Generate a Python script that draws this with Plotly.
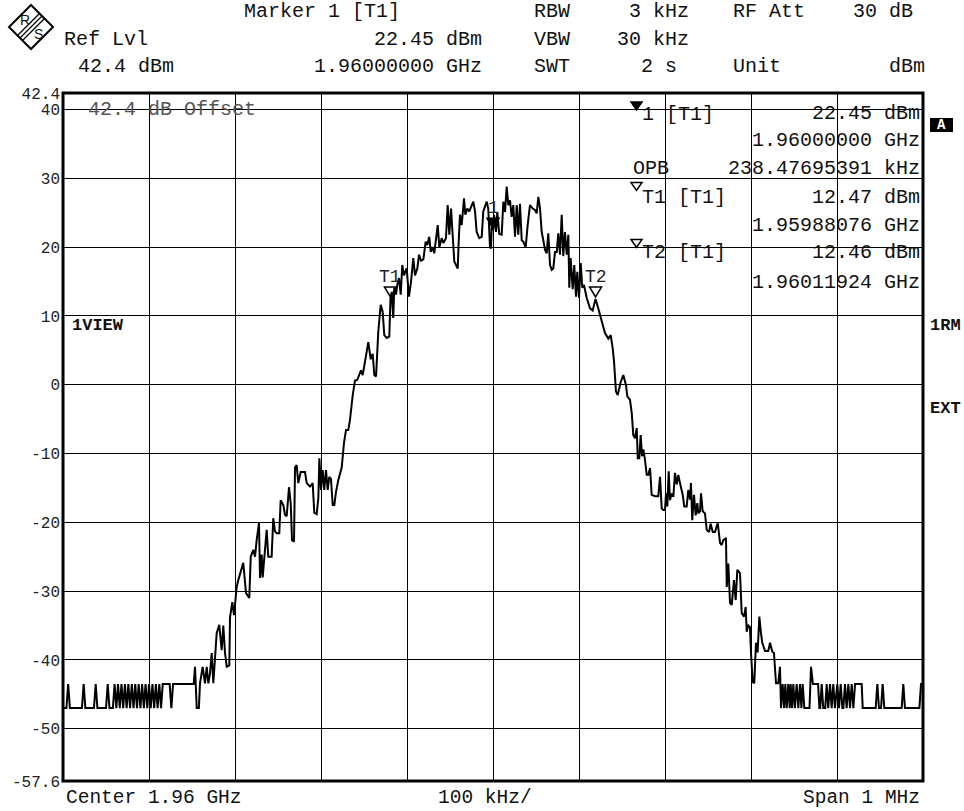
import plotly.graph_objects as go

MONO = "Liberation Mono, Courier New, monospace"
SANS = "Liberation Sans, Arial, sans-serif"

# ---- instrument settings -------------------------------------------------
CENTER_GHZ = 1.96
SPAN_MHZ = 1
DIV_KHZ = 100
REF_LEVEL_DBM = 42.4
REF_OFFSET_DB = 42.4
BOTTOM_DBM = -57.6
RBW_KHZ = 3
VBW_KHZ = 30
SWT_S = 2
RF_ATT_DB = 30
OPB_KHZ = 238.47695391

# ---- markers ---------------------------------------------------------------
MARKER_NAMES = ["1", "T1", "T2"]
MARKER_FREQ_GHZ = [1.96000000, 1.95988076, 1.96011924]
MARKER_LEVEL_DBM = [22.45, 12.47, 12.46]

# ---- y axis labels -----------------------------------------------------------
Y_TICKS = [42.4, 40, 30, 20, 10, 0, -10, -20, -30, -40, -50, -57.6]
Y_TICK_TEXT = ["42.4", "40", "30", "20", "10", "0", "-10", "-20", "-30", "-40", "-50", "-57.6"]

# ---- trace (frequency offset from centre in kHz, level in dBm) ---------------
floor_left_khz = [
    -500, -496, -494, -492, -478, -476, -474, -464, -462, -460,
    -450, -448, -446, -442, -440, -438, -436, -434, -432, -430,
    -428, -426, -424, -422, -420, -418, -416, -414, -412, -410,
    -408, -406, -404, -402, -400, -398, -396, -394, -392, -390,
    -388, -386, -384, -376, -374, -372, -348,
]
floor_left_dbm = [
    -47, -47, -43.5, -47, -47, -43.5, -47, -47, -43.5, -47,
    -47, -43.5, -47, -47, -43.5, -47, -43.5, -47, -43.5, -47,
    -43.5, -47, -43.5, -47, -43.5, -47, -43.5, -47, -43.5, -47,
    -43.5, -47, -43.5, -47, -43.5, -47, -43.5, -47, -43.5, -47,
    -43.5, -47, -43.5, -43.5, -47, -43.5, -43.5,
]

skirt_left_khz = [
    -346.5, -344.5, -342, -340.7, -337.6, -334.9, -332.9, -331, -329.1, -327.1,
    -325.2, -321.3, -318.3, -315.5, -313.6, -311.6, -309.6, -306.6, -305.8, -303.1,
    -301.2, -298, -296.2, -290.4, -287.2, -283.4, -281.7, -278.7, -276.7, -274.8,
    -272.1, -270.9, -269, -267.8, -266.3, -263.2, -261.3, -257.4, -255.5, -253.5,
    -251.5, -248.5, -246.9, -243.8, -241.9, -239.9, -237.2, -235.2, -233.7, -231.4,
    -230.2, -228.3, -226.4, -223.6, -218.6, -216.6, -212.8, -209.7, -207.8, -205,
    -203.1, -201.9, -200, -198, -196.2, -194.2, -192.2, -190.4, -188.4, -186.4,
    -184.5, -182.6, -179.9, -175.9, -173.3, -170.9, -168.3, -166.3,
]
skirt_left_dbm = [
    -41, -47, -47, -43.4, -41, -43.4, -41, -43.4, -42, -39,
    -43.4, -36.1, -34.9, -38.6, -35, -39, -41, -40.8, -33.8, -31.6,
    -33.5, -29.4, -28.4, -25.9, -30.3, -31, -25, -24, -25, -22.6,
    -20.1, -28.1, -24.7, -28, -25.5, -21.1, -25, -25, -19.4, -21.3,
    -21.6, -21.6, -16.8, -17.5, -18.9, -19.1, -14.9, -17.3, -22.6, -22.8,
    -12, -11.7, -14.3, -12.7, -12.7, -14.3, -14.8, -14.3, -18.6, -18.8,
    -16.5, -10.7, -15.3, -12.4, -15.3, -12.4, -15.3, -13.4, -13.7, -17.5,
    -17.5, -15.6, -13.9, -12, -8.5, -6.6, -6.6, -5.1,
]

lobe_khz = [
    -163.1, -160.5, -157.8, -155.5, -153.5, -151.5, -148.8, -145, -142.2, -139.9,
    -138, -136, -133.4, -130.6, -128.3, -126.4, -123.6, -120.6, -119.24, -117.8,
    -116, -114.8, -112.8, -111.3, -109.3, -107.3, -105.5, -103.5, -100.4, -97.7,
    -95.3, -92.7, -90.7, -88, -86, -83.7, -81, -78.3, -76.4, -74.1,
    -72.4, -70.1, -68.3, -65.5, -64.3, -62.4, -59.7, -57.8, -54.7, -52.7,
    -50.8, -48.8, -46.2, -45, -43, -41, -39.9, -38.4, -36.4, -33.7,
    -32.2, -29.9, -27.6, -24.8, -22.9, -20.9, -19, -15.9, -13.1, -11.3,
    -7.3, -5.5, -3.5, -2.3, -1.2, 0, 1.2, 3.5, 5, 7.3,
    10.1, 12, 14, 15.9, 17.8, 19.8, 21.7, 23.6, 25.6, 27.6,
    29.4, 31.4, 33.4, 35.2, 38, 40.3, 43, 46.2, 48.8, 50.8,
    52.7, 54.7, 56.6, 58.5, 60.5, 62.4, 64.3, 66.3, 68.3, 70.1,
    72.1, 74.1, 75.9, 77.9, 79.9, 81.7, 83.7, 85.7, 87.6, 88.7,
    90.3, 92.7, 94.5, 96.5, 98, 100, 102, 103.8, 105.8, 109,
    112.8, 115.9, 117.8, 119.24, 122.4, 126.4, 130.2, 134.1, 136.9, 139.2,
    140.7, 143, 145, 148.5, 151.5, 154.7,
]
lobe_dbm = [
    -1.5, 0.6, 0.7, 1.4, 2.1, 1.4, 3.7, 6.2, 3.7, 4.5,
    1.4, 1.2, 7.7, 11.6, 10.6, 7.2, 6.8, 7.0, 12.47, 13.5,
    9.7, 14.1, 13.1, 14.5, 15.5, 13.1, 17.4, 15.9, 16.9, 12.8,
    15.0, 18.4, 15.9, 16.9, 18.9, 18.0, 18.2, 20.8, 20.3, 21.5,
    19.3, 20.0, 19.1, 21.8, 23.2, 20.0, 21.3, 20.6, 21.3, 26.1,
    21.8, 25.6, 20.0, 17.9, 17.4, 16.9, 20.8, 24.7, 23.2, 27.1,
    24.7, 25.6, 25.2, 25.9, 26.6, 25.2, 22.2, 21.3, 21.5, 25.2,
    26.6, 25.6, 20.0, 19.8, 24.2, 22.45, 24.7, 22.2, 25.1, 21.9,
    21.8, 26.6, 25.1, 28.8, 26.1, 26.8, 24.4, 26.1, 21.5, 26.1,
    21.8, 26.3, 21.0, 20.8, 20.0, 23.2, 26.1, 25.6, 25.4, 24.9,
    27.3, 25.6, 22.2, 21.0, 19.6, 19.1, 22.0, 17.4, 16.7, 16.9,
    19.3, 19.3, 22.0, 18.9, 24.7, 18.7, 22.2, 18.9, 21.8, 14.1,
    18.4, 13.9, 17.4, 12.8, 16.4, 12.6, 17.7, 14.1, 14.5, 12.6,
    11.1, 10.8, 11.8, 12.46, 11.1, 9.2, 7.5, 6.7, 7.2, 5.3,
    3.4, -1.0, -1.5, 0.4, 1.4, -0.1,
]

skirt_right_khz = [
    156.2, 159.3, 161.3, 163.1, 165.1, 167.1, 168.3, 170.1, 171.7, 173.3,
    174.8, 176.7, 178.7, 180.6, 182.6, 184.5, 188.4, 192.2, 194.2, 196.2,
    198, 200, 201.2, 202.7, 204.3, 205.8, 207.8, 209.7, 211.6, 213.6,
    215.5, 217.4, 220.6, 222.4, 225.2, 227.1, 229.1, 230.2, 231.7, 233.7,
    235.7, 237.6, 238.7, 240.7, 241.9, 243.8, 246.5, 248.5, 251.2, 253.1,
    255.5, 258.1, 261.3, 264, 265.9, 267.8, 270.9, 271.8, 273.6, 275.6,
    277.6, 280.2, 282.2, 284.1, 287.2, 289.2, 291.9, 293.8, 295, 296.9,
    298.8, 300, 302, 303.8, 305.8, 307.7, 309.7, 311.6, 313.1, 316.3,
    320.1, 322.1, 324.8, 326.7, 329.1, 331.7, 333.7,
]
skirt_right_dbm = [
    -1.7, -2.2, -4.1, -7.3, -7.8, -6.3, -10.7, -10.7, -7.3, -10.4,
    -9.4, -10.9, -13.1, -13.1, -12.1, -16.0, -16.2, -16.2, -13.4, -18.0,
    -18.2, -18.2, -15.8, -17.7, -12.6, -16.8, -15.8, -16.3, -12.8, -14.5,
    -13.1, -14.3, -16.0, -17.7, -17.7, -15.3, -16.7, -14.3, -19.7, -16.0,
    -19.0, -17.2, -18.7, -18.4, -15.8, -18.4, -18.7, -21.1, -21.4, -20.2,
    -21.4, -21.4, -20.1, -23.0, -23.3, -22.6, -22.3, -29.4, -26.0, -31.7,
    -32.0, -28.4, -31.3, -26.9, -27.4, -33.2, -33.7, -32.3, -35.9, -35.0,
    -35.2, -39.0, -43.2, -43.4, -37.5, -38.9, -33.7, -36.1, -37.5, -38.7,
    -38.7, -37.5, -38.8, -39.0, -43.4, -43.4, -41.0,
]

floor_right_khz = [
    334.9, 336.8, 338.5, 339.9, 341.5, 343.4, 345, 346.1, 347.7, 349.2,
    351, 353.1, 355, 357, 358.6, 360.1, 362, 368, 369.8, 372,
    378, 379.5, 380.5, 382.2, 384, 386.3, 388, 389.8, 391.9, 393.8,
    395.7, 397.6, 400.4, 402.3, 404.3, 406.2, 407.4, 409.3, 411.2, 413.2,
    415.1, 417.1, 419, 421, 428.7, 429.9, 445, 446.9, 448.8, 451.2,
    453.1, 455, 475.2, 477.1, 479, 495.8, 497.7, 500,
]
floor_right_dbm = [
    -47, -43.5, -47, -43.5, -47, -43.5, -47, -43.5, -47, -43.5,
    -47, -43.5, -47, -43.5, -47, -43.5, -47, -47, -41, -43.5,
    -43.5, -47, -47, -43.5, -47, -47, -43.5, -47, -43.5, -47,
    -43.5, -47, -43.5, -47, -43.5, -47, -47, -43.5, -47, -43.5,
    -47, -43.5, -47, -43.5, -43.5, -47, -47, -43.5, -47, -47,
    -43.5, -47, -47, -43.5, -47, -47, -43.5, -43.5,
]

trace_khz = floor_left_khz + skirt_left_khz + lobe_khz + skirt_right_khz + floor_right_khz
trace_dbm = floor_left_dbm + skirt_left_dbm + lobe_dbm + skirt_right_dbm + floor_right_dbm
assert len(trace_khz) == len(trace_dbm)

# ---- page geometry ----------------------------------------------------------
W, H = 964, 811
ML, MR, MT, MB = 63, 41, 93, 30
PW, PH = W - ML - MR, H - MT - MB


def paper(x, y):
    """Page pixel -> paper coordinates."""
    return (x - ML) / PW, (H - MB - y) / PH


fig = go.Figure()

fig.add_trace(go.Scatter(
    x=trace_khz, y=trace_dbm, mode="lines",
    line=dict(color="black", width=2), hoverinfo="skip", showlegend=False,
))

half_span = SPAN_MHZ * 1000 / 2
fig.update_xaxes(
    range=[-half_span, half_span],
    tickvals=[-half_span + DIV_KHZ * k for k in range(1, 10)],
    showgrid=True, gridcolor="black", gridwidth=1,
    showticklabels=False, ticks="", zeroline=False, showline=False,
)
fig.update_yaxes(
    range=[BOTTOM_DBM, REF_LEVEL_DBM],
    tickvals=Y_TICKS, ticktext=Y_TICK_TEXT,
    showgrid=True, gridcolor="black", gridwidth=1,
    ticks="", ticklabelstandoff=2, zeroline=False, showline=False,
    tickfont=dict(family=MONO, size=16, color="#222"),
)

shapes = []
annotations = []

# plot frame
shapes.append(dict(type="rect", xref="paper", yref="paper", x0=0, y0=0, x1=1, y1=1,
                   line=dict(color="black", width=3), layer="above"))


def note(text, x, y, size=20, anchor="left", color="#111", bold=False, family=MONO):
    fx, fy = paper(x, y)
    annotations.append(dict(
        text=f"<b>{text}</b>" if bold else text, x=fx, y=fy, xref="paper", yref="paper",
        xanchor=anchor, yanchor="middle", showarrow=False,
        font=dict(family=family, size=size, color=color),
    ))


def tri(x0, x1, ytop, ybot, filled):
    (ax, ay), (bx, by), (cx, cy) = paper(x0, ytop), paper(x1, ytop), paper((x0 + x1) / 2, ybot)
    shapes.append(dict(type="path", xref="paper", yref="paper",
                       path=f"M {ax} {ay} L {bx} {by} L {cx} {cy} Z",
                       line=dict(color="black", width=1.5),
                       fillcolor="black" if filled else "rgba(0,0,0,0)"))


# header block
m1_level = f"{MARKER_LEVEL_DBM[0]:.2f} dBm"
m1_freq = f"{MARKER_FREQ_GHZ[0]:.8f} GHz"
note("Marker 1 [T1]", 242, 12)
note("RBW", 532, 12)
note(f"{RBW_KHZ} kHz", 627, 12)
note("RF Att", 731, 12)
note(f"{RF_ATT_DB} dB", 851, 12)
note("Ref Lvl", 62, 40)
note(m1_level, 372, 40)
note("VBW", 532, 40)
note(f"{VBW_KHZ} kHz", 615, 40)
note(f"{REF_LEVEL_DBM} dBm", 76, 67)
note(m1_freq, 312, 67)
note("SWT", 532, 67)
note(f"{SWT_S} s", 639, 67)
note("Unit", 731, 67)
note("dBm", 887, 67)

# marker table
tri(631, 642, 102, 110, True)
note("1 [T1]", 640, 114)
note(m1_level, 922, 113, anchor="right")
note(m1_freq, 922, 140, anchor="right")
note("OPB", 631, 168)
note(f"{OPB_KHZ:.8f} kHz", 922, 168, anchor="right")
tri(631, 642, 182.5, 190.5, False)
note(f"{MARKER_NAMES[1]} [T1]", 640, 197)
note(f"{MARKER_LEVEL_DBM[1]:.2f} dBm", 922, 197, anchor="right")
note(f"{MARKER_FREQ_GHZ[1]:.8f} GHz", 922, 225, anchor="right")
tri(631, 642, 239.5, 247.5, False)
note(f"{MARKER_NAMES[2]} [T1]", 640, 253)
note(f"{MARKER_LEVEL_DBM[2]:.2f} dBm", 922, 253, anchor="right")
note(f"{MARKER_FREQ_GHZ[2]:.8f} GHz", 922, 282, anchor="right")

# labels inside / beside the grid
note(f"{REF_OFFSET_DB} dB Offset", 86, 109, color="#555")
note("1VIEW", 70, 325, size=17, bold=True)
note("1RM", 928, 325, size=17, bold=True)
note("EXT", 928, 408, size=17, bold=True)
bx0, by0 = paper(930, 132)
bx1, by1 = paper(953, 118)
shapes.append(dict(type="rect", xref="paper", yref="paper", x0=bx0, y0=by0, x1=bx1, y1=by1,
                   fillcolor="black", line=dict(width=0)))
note("A", 941.5, 125, size=14, anchor="center", color="white", bold=True)

# footer
note(f"Center {CENTER_GHZ} GHz", 64, 798, size=19.5)
note(f"{DIV_KHZ} kHz/", 436, 798, size=19.5)
note(f"Span {SPAN_MHZ} MHz", 801, 798, size=19.5)

# trace markers: triangle just above the marked sample, name above it
for name, f_ghz, lvl in zip(MARKER_NAMES, MARKER_FREQ_GHZ, MARKER_LEVEL_DBM):
    off = (f_ghz - CENTER_GHZ) * 1e6
    filled = name == "1"
    shapes.append(dict(type="path", xref="x", yref="y", xsizemode="pixel", ysizemode="pixel",
                       xanchor=off, yanchor=lvl, path="M -6 12 L 6 12 L 0 2 Z",
                       line=dict(color="black", width=1.5),
                       fillcolor="black" if filled else "rgba(0,0,0,0)"))
    annotations.append(dict(text=name, x=off, y=lvl, xref="x", yref="y", yshift=22,
                            showarrow=False, xanchor="center", yanchor="middle",
                            font=dict(family=MONO, size=18, color="#222")))

# instrument logo (diamond with stripes, R and S)
cx, cy, r = 31, 27, 22
pts = [paper(cx, cy - r), paper(cx + r, cy), paper(cx, cy + r), paper(cx - r, cy)]
shapes.append(dict(type="path", xref="paper", yref="paper",
                   path="M " + " L ".join(f"{px_} {py_}" for px_, py_ in pts) + " Z",
                   line=dict(color="black", width=2), fillcolor="white"))
for d in (-2.5, 0, 2.5):
    (sx0, sy0), (sx1, sy1) = paper(20 + d, 38 + d), paper(42 + d, 16 + d)
    shapes.append(dict(type="line", xref="paper", yref="paper", x0=sx0, y0=sy0, x1=sx1, y1=sy1,
                       line=dict(color="black", width=1.2)))
note("R", 25, 20, size=14, anchor="center", family=SANS)
note("S", 38, 34, size=14, anchor="center", family=SANS)

fig.update_layout(
    width=W, height=H,
    margin=dict(l=ML, r=MR, t=MT, b=MB, pad=0),
    paper_bgcolor="white", plot_bgcolor="white",
    shapes=shapes, annotations=annotations,
    showlegend=False, hovermode=False,
)

fig.write_html("out.html")
